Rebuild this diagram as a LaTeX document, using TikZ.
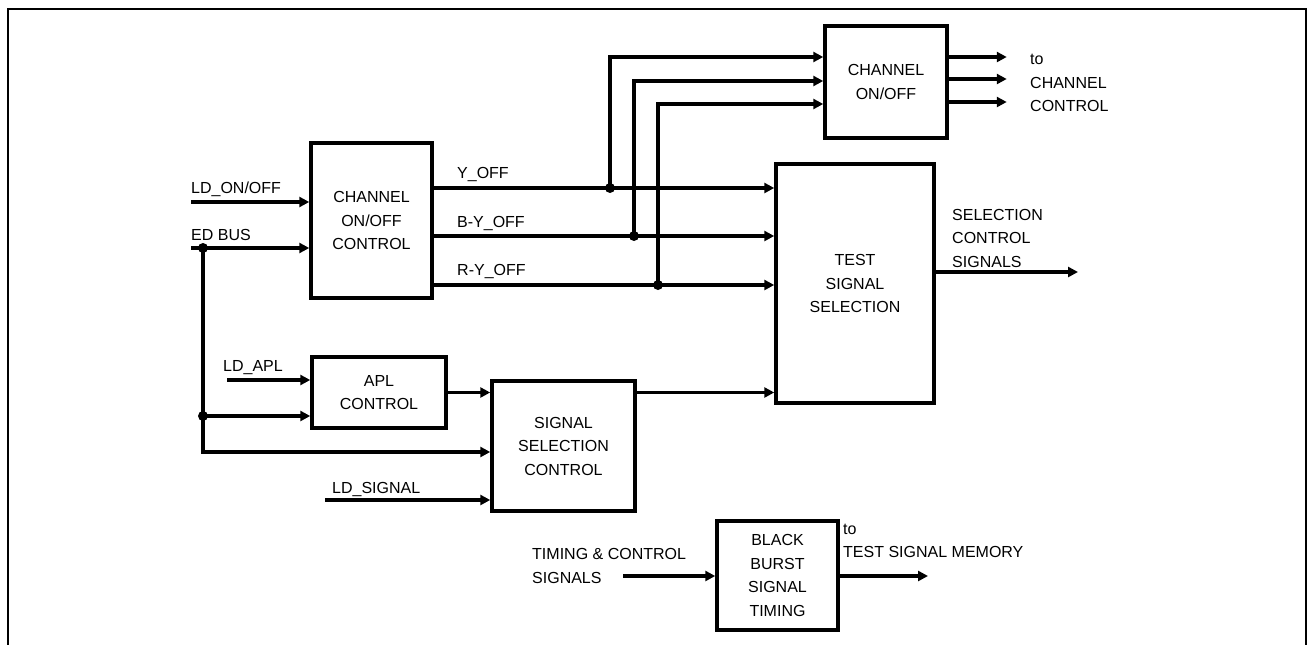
\documentclass[tikz,border=0pt]{standalone}
\usepackage{fontspec}
\setmainfont{Liberation Sans}
\usepackage{tikz}
\usetikzlibrary{
    arrows.meta,
    calc
}

\tikzset{
    block/.style={draw, line width=3.5pt, align=center, inner sep=0pt},
    sig/.style={line width=3.5pt, -{Triangle[length=10pt,width=10pt]}},
    lbl/.style={inner sep=0pt, anchor=base west},
    lbls/.style={inner sep=0pt, anchor=west, align=left}
}

\begin{document}
\begin{tikzpicture}[x=1pt, y=-1pt, font=\fontsize{16}{23.5}\selectfont]
        % Page and open frame
        \useasboundingbox (0,0) rectangle (1309,645);
        \draw[line width=2pt] (8,645) -- (8,9) -- (1306,9) -- (1306,645);

        % Draw the blocks
        \node[block, minimum width=121pt, minimum height=155pt] (chctl) at (371.5,220.5) {CHANNEL\\ON/OFF\\CONTROL};
        \node[block, minimum width=122pt, minimum height=112pt] (chon) at (886,82) {CHANNEL\\ON/OFF};
        \node[block, minimum width=158pt, minimum height=239pt] (tss) at (855,283.5) {TEST\\SIGNAL\\SELECTION};
        \node[block, minimum width=134pt, minimum height=71pt] (apl) at (379,392.5) {APL\\CONTROL};
        \node[block, minimum width=143pt, minimum height=130pt] (ssc) at (563.5,446) {SIGNAL\\SELECTION\\CONTROL};
        \node[block, minimum width=121pt, minimum height=109pt] (bbst) at (777.5,575.5) {BLACK\\BURST\\SIGNAL\\TIMING};

        % Free ends and junctions
        \coordinate (ldon) at (191,202);
        \coordinate (edbus) at (191,248);
        \coordinate (jbus) at (203,248);
        \coordinate (japl) at (203,416);
        \coordinate (jlow) at (203,452);
        \coordinate (ldapl) at (227,380);
        \coordinate (ldsig) at (325,500);
        \coordinate (jy) at (610,188);
        \coordinate (jb) at (634,236);
        \coordinate (jr) at (658,285);
        \coordinate (timing) at (623,576);
        \coordinate (tsmem) at (928,576);
        \coordinate (selout) at (1078,272);

        % Inputs of the channel on/off control
        \draw[sig] (ldon) -- (chctl.west |- ldon);
        \draw[sig] (edbus) -- (chctl.west |- edbus);

        % ED bus down to APL and signal selection control
        \draw[line width=3.5pt] (jbus) -- (jlow);
        \draw[sig] (japl) -- (apl.west |- japl);
        \draw[sig] ([yshift=1.75pt]jlow) -- (jlow) -- (ssc.west |- jlow);
        \draw[sig] (ldapl) -- (apl.west |- ldapl);
        \draw[sig] (ldsig) -- (ssc.west |- ldsig);
        \draw[sig] (apl.east) -- (ssc.west |- apl.east);
        \draw[sig] (ssc.east |- apl.east) -- (tss.west |- apl.east);

        % Y, B-Y and R-Y off lines
        \foreach \j in {jy,jb,jr}
            \draw[sig] (chctl.east |- \j) -- (tss.west |- \j);
        \foreach \j/\dy in {jy/-25,jb/-1,jr/22}
            \draw[sig] (\j) |- ($(chon.west)+(0,\dy)$);
        \foreach \dy in {-25,-3,20}
            \draw[sig] ($(chon.east)+(0,\dy)$) -- ++(58,0);

        % Outputs
        \draw[sig] (tss.east |- selout) -- (selout);
        \draw[sig] (timing) -- (bbst.west |- timing);
        \draw[sig] (bbst.east |- tsmem) -- (tsmem);

        % Junction dots
        \foreach \j in {jbus,japl,jy,jb,jr}
            \fill (\j) circle (5pt);

        % Labels
        \node[lbl] (ldonlbl) at (191,193) {LD\_ON/OFF};
        \node[lbl] (edbuslbl) at (191,240) {ED BUS};
        \node[lbl] (ldapllbl) at (223,371) {LD\_APL};
        \node[lbl] (ldsiglbl) at (332,493) {LD\_SIGNAL};
        \node[lbl] (yofflbl) at (457,178) {Y\_OFF};
        \node[lbl] (byofflbl) at (457,227) {B-Y\_OFF};
        \node[lbl] (ryofflbl) at (457,275) {R-Y\_OFF};
        \node[lbls] (tochlbl) at (1030,83) {to\\CHANNEL\\CONTROL};
        \node[lbls] (sellbl) at (952,238) {SELECTION\\CONTROL\\SIGNALS};
        \node[lbls] (timinglbl) at (532,566) {TIMING \& CONTROL\\SIGNALS};
        \node[lbls] (tsmemlbl) at (843,541) {to\\TEST SIGNAL MEMORY};

    \end{tikzpicture}
\end{document}
